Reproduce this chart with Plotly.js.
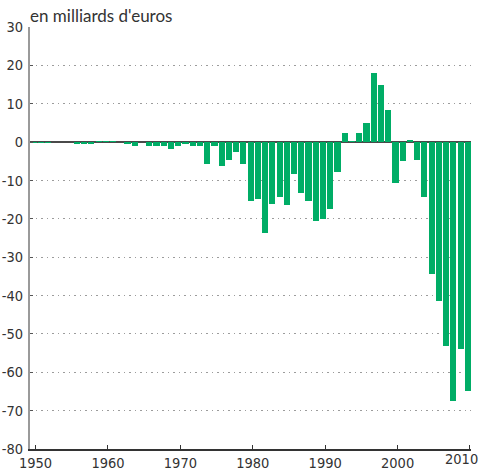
<!DOCTYPE html>
<html>
<head>
<meta charset="utf-8">
<script src="https://cdn.plot.ly/plotly-3.0.1.min.js"></script>
<style>
html,body{margin:0;padding:0;background:#fff;}
#chart{width:481px;height:472px;}
</style>
</head>
<body>
<div id="chart"></div>
<script>
const years = [];
for (let y = 1950; y <= 2010; y++) years.push(y);

const balance = [
  -0.2, -0.3, -0.3, -0.1, -0.1, 0.1, -0.6, -0.6, -0.6, 0.4,   // 1950-1959
  0.4, 0.4, 0.0, -0.6, -0.9, -0.1, -0.9, -0.9, -1.1, -1.9,    // 1960-1969
  -1.1, -0.6, -0.9, -1.1, -5.8, -1.1, -6.3, -4.7, -2.7, -5.8, // 1970-1979
  -15.4, -14.9, -23.7, -16.1, -14.3, -16.4, -8.4, -13.3, -15.4, -20.5, // 1980-1989
  -20.0, -17.4, -7.8, 2.3, 0.2, 2.4, 5.0, 18.0, 14.9, 8.4,    // 1990-1999
  -10.7, -4.8, 0.6, -4.6, -14.4, -34.3, -41.3, -53.2, -67.6, -54.0, // 2000-2009
  -64.8                                                        // 2010
];

const xTicks = [1950, 1960, 1970, 1980, 1990, 2000, 2010];
const yTicks = [30, 20, 10, 0, -10, -20, -30, -40, -50, -60, -70, -80];
const unitLabel = "en milliards d'euros";

const lastTick = xTicks[xTicks.length - 1];

const trace = {
  type: 'bar',
  x: years,
  y: balance,
  width: 0.85,
  offset: -0.72,
  marker: {color: '#00ad66', line: {width: 0}},
  hoverinfo: 'x+y'
};

const tickFont = {family: '"Liberation Sans Narrow", "DejaVu Sans Condensed", sans-serif', size: 14.5, color: '#333'};

const layout = {
  width: 481,
  height: 472,
  margin: {l: 30, r: 10, t: 27, b: 23, pad: 0},
  paper_bgcolor: '#fff',
  plot_bgcolor: '#fff',
  showlegend: false,
  bargap: 0,
  xaxis: {
    range: [1949.23, 2010.14],
    tickmode: 'array',
    tickvals: xTicks,
    // the last label sits against the right edge; it is drawn as an annotation below
    ticktext: xTicks.map(v => v === lastTick ? '' : String(v)),
    ticks: 'inside',
    ticklen: 4,
    tickwidth: 1,
    tickcolor: '#333',
    showline: true,
    linecolor: '#333',
    linewidth: 1.5,
    showgrid: false,
    zeroline: false,
    tickfont: tickFont,
    fixedrange: true
  },
  yaxis: {
    range: [-80, 30],
    tickmode: 'array',
    tickvals: yTicks,
    ticktext: yTicks.map(String),
    ticks: 'inside',
    ticklen: 3,
    tickwidth: 1,
    tickcolor: '#555',
    showline: true,
    linecolor: '#9a9a9a',
    linewidth: 2,
    showgrid: true,
    gridcolor: '#9c9c9c',
    griddash: '1.5px,4px',
    gridwidth: 1,
    zeroline: true,
    zerolinecolor: '#4a4a4a',
    zerolinewidth: 2,
    tickfont: tickFont,
    ticklabelstandoff: 2,
    fixedrange: true
  },
  annotations: [{
    text: unitLabel,
    xref: 'paper', yref: 'paper',
    x: 0, y: 1,
    xanchor: 'left', yanchor: 'bottom',
    xshift: -2, yshift: -1,
    showarrow: false,
    font: {family: 'Lato, "Open Sans", sans-serif', size: 17, color: '#333'}
  }, {
    text: String(lastTick),
    xref: 'x', yref: 'paper',
    x: lastTick, y: 0,
    xanchor: 'right', yanchor: 'top',
    xshift: 9, yshift: -1,
    borderpad: 0,
    showarrow: false,
    font: tickFont
  }]
};

Plotly.newPlot('chart', [trace], layout, {displayModeBar: false, staticPlot: true});
</script>
</body>
</html>
